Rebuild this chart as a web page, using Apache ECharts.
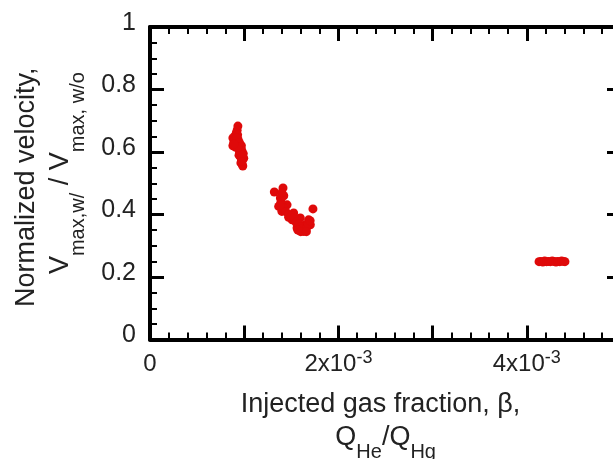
<!DOCTYPE html>
<html><head><meta charset="utf-8">
<script src="https://cdn.jsdelivr.net/npm/echarts@6/dist/echarts.min.js"></script>
<style>html,body{margin:0;padding:0;background:#fff}#c{width:613px;height:459px}</style>
</head><body><div id="c"></div>
<script>
// Data (beta values in absolute units, normalized velocity)
const cluster1X = [0.000933,0.000925,0.000915,0.000900,0.000880,0.000890,0.000905,0.000880,0.000920,0.000935,0.000940,0.000955,0.000970,0.000975,0.000950,0.000945,0.000960,0.000990,0.000995,0.000970,0.000965,0.000980,0.000985,0.000930,0.000910,0.000900,0.000920,0.000950,0.000960,0.000980,0.000975,0.000930,0.000890];
const cluster1Y = [0.683,0.670,0.660,0.650,0.645,0.632,0.625,0.620,0.630,0.640,0.620,0.615,0.620,0.605,0.600,0.590,0.585,0.595,0.580,0.575,0.565,0.560,0.555,0.655,0.615,0.640,0.645,0.630,0.600,0.590,0.570,0.615,0.625];
const cluster2X = [0.001320,0.001412,0.001384,0.001366,0.001455,0.001400,0.001525,0.001508,0.001596,0.001561,0.001631,0.001702,0.001684,0.001730,0.001649,0.001472,0.001589,0.001390,0.001420,0.001440,0.001470,0.001500,0.001530,0.001550,0.001580,0.001600,0.001620,0.001660,0.001680,0.001420,0.001400,0.001380,0.001570,0.001600,0.001700,0.001660];
const cluster2Y = [0.472,0.485,0.453,0.426,0.431,0.410,0.405,0.383,0.389,0.357,0.346,0.367,0.383,0.418,0.367,0.391,0.367,0.440,0.420,0.410,0.400,0.395,0.390,0.375,0.370,0.360,0.355,0.355,0.370,0.460,0.470,0.430,0.350,0.345,0.380,0.345];
const cluster3X = [0.004130,0.004150,0.004170,0.004190,0.004210,0.004230,0.004250,0.004270,0.004290,0.004310,0.004330,0.004350,0.004370,0.004390,0.004405];
const cluster3Y = [0.249,0.250,0.248,0.251,0.249,0.250,0.249,0.251,0.250,0.248,0.250,0.249,0.251,0.250,0.249];
const xTickLabels = {0: '{b|0}', 2: '{b|2x10}{sup|-3}', 4: '{b|4x10}{sup|-3}'};
const yTickLabels = ['0', '0.2', '0.4', '0.6', '0.8', '1'];

const points = [];
[[cluster1X, cluster1Y], [cluster2X, cluster2Y], [cluster3X, cluster3Y]].forEach(([xs, ys]) => {
  xs.forEach((x, i) => points.push([x, ys[i]]));
});

const FONT = '"Liberation Sans", Arial, Helvetica, sans-serif';
const TXT = '#222';
const chart = echarts.init(document.getElementById('c'), null, {renderer: 'canvas'});

function axisLine() { return {show: true, onZero: false, lineStyle: {color: '#000', width: 4}}; }
function majorTick() { return {show: true, inside: false, length: -14, lineStyle: {color: '#000', width: 3}}; }
function minorTick(n) { return {show: true, splitNumber: n, length: -7, lineStyle: {color: '#000', width: 2}}; }
function titleRich(l1, L, l1Pad, l2Pad) {
  return {
    l: {fontFamily: FONT, fontSize: 27, color: TXT, lineHeight: l1, verticalAlign: 'middle', padding: l1Pad},
    v: {fontFamily: FONT, fontSize: 27, color: TXT, lineHeight: 36, verticalAlign: 'top', padding: l2Pad},
    m: {fontFamily: FONT, fontSize: 27, color: TXT, lineHeight: 36, verticalAlign: 'top'},
    s: {fontFamily: FONT, fontSize: 20, color: TXT, lineHeight: 4, verticalAlign: 'bottom'},
    z: {fontFamily: FONT, fontSize: 1, color: TXT, lineHeight: L, verticalAlign: 'middle'}
  };
}

chart.setOption({
  animation: false,
  backgroundColor: '#fff',
  grid: {left: 150, right: -8, top: 27, bottom: 119.5, containLabel: false, outerBoundsMode: 'none'},
  xAxis: [{
    type: 'value', position: 'bottom', min: 0, max: 0.005, interval: 0.001,
    axisLine: axisLine(), axisTick: majorTick(), minorTick: minorTick(5), splitLine: {show: false},
    axisLabel: {
      margin: 10, color: TXT, fontFamily: FONT, fontSize: 24,
      showMinLabel: true, showMaxLabel: true,
      formatter: v => { const k = Math.round(v * 1000); return (Math.abs(v * 1000 - k) < 1e-6 && xTickLabels[k] !== undefined) ? xTickLabels[k] : ''; },
      rich: {
        b: {fontFamily: FONT, fontSize: 24, color: TXT, lineHeight: 30, verticalAlign: 'middle'},
        sup: {fontFamily: FONT, fontSize: 18, color: TXT, lineHeight: 15, verticalAlign: 'top'}
      }
    },
    name: '{l|Injected gas fraction, β,}\n{z| }{v|Q}{s|He}{m|/Q}{s|Hg}',
    nameLocation: 'middle', nameGap: 45,
    nameTextStyle: {color: TXT, fontFamily: FONT, fontSize: 27, rich: titleRich(40, 38, [0, 10, 0, 0], 0)}
  }, {
    type: 'value', position: 'top', min: 0, max: 0.005, interval: 0.001,
    axisLine: axisLine(), axisTick: majorTick(), minorTick: minorTick(5), splitLine: {show: false},
    axisLabel: {show: false}
  }],
  yAxis: [{
    type: 'value', position: 'left', min: 0, max: 1, interval: 0.2,
    axisLine: axisLine(), axisTick: majorTick(), minorTick: minorTick(4), splitLine: {show: false},
    axisLabel: {
      margin: 14, color: TXT, fontFamily: FONT, fontSize: 25,
      verticalAlign: 'bottom', lineHeight: 8,
      formatter: v => yTickLabels[Math.round(v * 5)]
    },
    name: '{l|Normalized velocity,}\n{z| }{v|V}{s|max,w/}{m| / V}{s|max, w/o}',
    nameLocation: 'middle', nameGap: 61.5, nameRotate: 90,
    nameTextStyle: {color: TXT, fontFamily: FONT, fontSize: 27, rich: titleRich(41, 41, [0, 8, 0, 0], [0, 0, 0, 20])}
  }, {
    type: 'value', position: 'right', min: 0, max: 1, interval: 0.2,
    axisLine: axisLine(), axisTick: majorTick(), minorTick: minorTick(4), splitLine: {show: false},
    axisLabel: {show: false}
  }],
  series: [{
    type: 'scatter', xAxisIndex: 0, yAxisIndex: 0,
    data: points, symbol: 'circle', symbolSize: 9,
    itemStyle: {color: '#df0a0a', opacity: 1}
  }]
});
</script></body></html>
